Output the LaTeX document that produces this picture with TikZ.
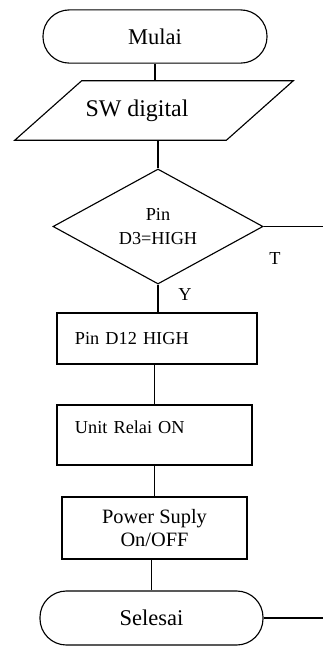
\documentclass[tikz,border=0pt]{standalone}
\usepackage{fontspec}
\setmainfont{Liberation Serif}
\usetikzlibrary{shapes.geometric}
\tikzset{>=stealth}
\tikzset{
  terminal/.style={draw, line width=0.8pt, rounded corners=0.66cm, minimum height=1.33cm, font=\fontsize{16}{18}\selectfont},
  proses/.style={draw, line width=0.8pt, rectangle, inner sep=0pt, font=\fontsize{13}{17}\selectfont},
  garis/.style={line width=0.8pt},
  teks/.style={font=\fontsize{13}{15}\selectfont}
}

\begin{document}
\begin{tikzpicture}[x=0.025cm,y=-0.025cm]
      \useasboundingbox (0,0) rectangle (323,646);
      \node[terminal, minimum width=5.6cm] at (155,36.5) (mulai) {Mulai};
      % data input, outline drawn from the corners
      \node[minimum width=5.275cm, minimum height=1.475cm, inner sep=0pt,
            font=\fontsize{17}{19}\selectfont] at (154,110.5) (sw) {\raisebox{-0.1cm}{SW digital}\hspace*{0.85cm}};
      \draw[garis] ([xshift=-0.8375cm]sw.south west) -- ([xshift=0.8375cm]sw.north west)
                -- ([xshift=0.8375cm]sw.north east) -- ([xshift=-0.8375cm]sw.south east) -- cycle;
      \node[draw, line width=0.8pt, diamond, aspect=1.83, minimum width=5.25cm, minimum height=2.875cm,
            inner sep=0pt, align=center, font=\fontsize{13}{17}\selectfont] at (158,226.5) (cek) {Pin\\D3=HIGH};
      \node[proses, minimum width=5cm, minimum height=1.275cm, text width=4.1cm, align=left,
            inner xsep=0.45cm] at (157,338.5) (pin) {Pin D12 HIGH};
      \node[proses, minimum width=4.875cm, minimum height=1.5cm, text width=3.975cm, align=left,
            inner xsep=0.45cm, text height=0.35cm, text depth=0.45cm] at (154.5,435) (relai) {Unit Relai ON};
      \node[proses, minimum width=4.625cm, minimum height=1.55cm, align=center,
            font=\fontsize{14.5}{16.5}\selectfont] at (154.5,528) (power) {Power Suply\\On/OFF};
      \node[terminal, minimum width=5.575cm, minimum height=1.35cm] at (151.5,618) (selesai) {Selesai};
      \coordinate (kanan1) at (323,226.5);
      \coordinate (kanan2) at (323,618);
      \draw[garis] (mulai.south) -- (mulai.south |- sw.north);
      \draw[garis] (cek.north |- sw.south) -- (cek.north);
      \draw[garis] (cek.east) -- (kanan1);
      \draw[garis] (cek.south) -- (pin.north -| cek.south);
      \draw[garis] (pin.south -| relai.north) -- (relai.north);
      \draw[garis] (relai.south) -- (power.north);
      \draw[garis] (power.south -| selesai.north) -- (selesai.north);
      \draw[garis] (selesai.east) -- (kanan2);
      \node[teks] at (275,259) (t) {T};
      \node[teks] at (185,295) (y) {Y};
\end{tikzpicture}
\end{document}
